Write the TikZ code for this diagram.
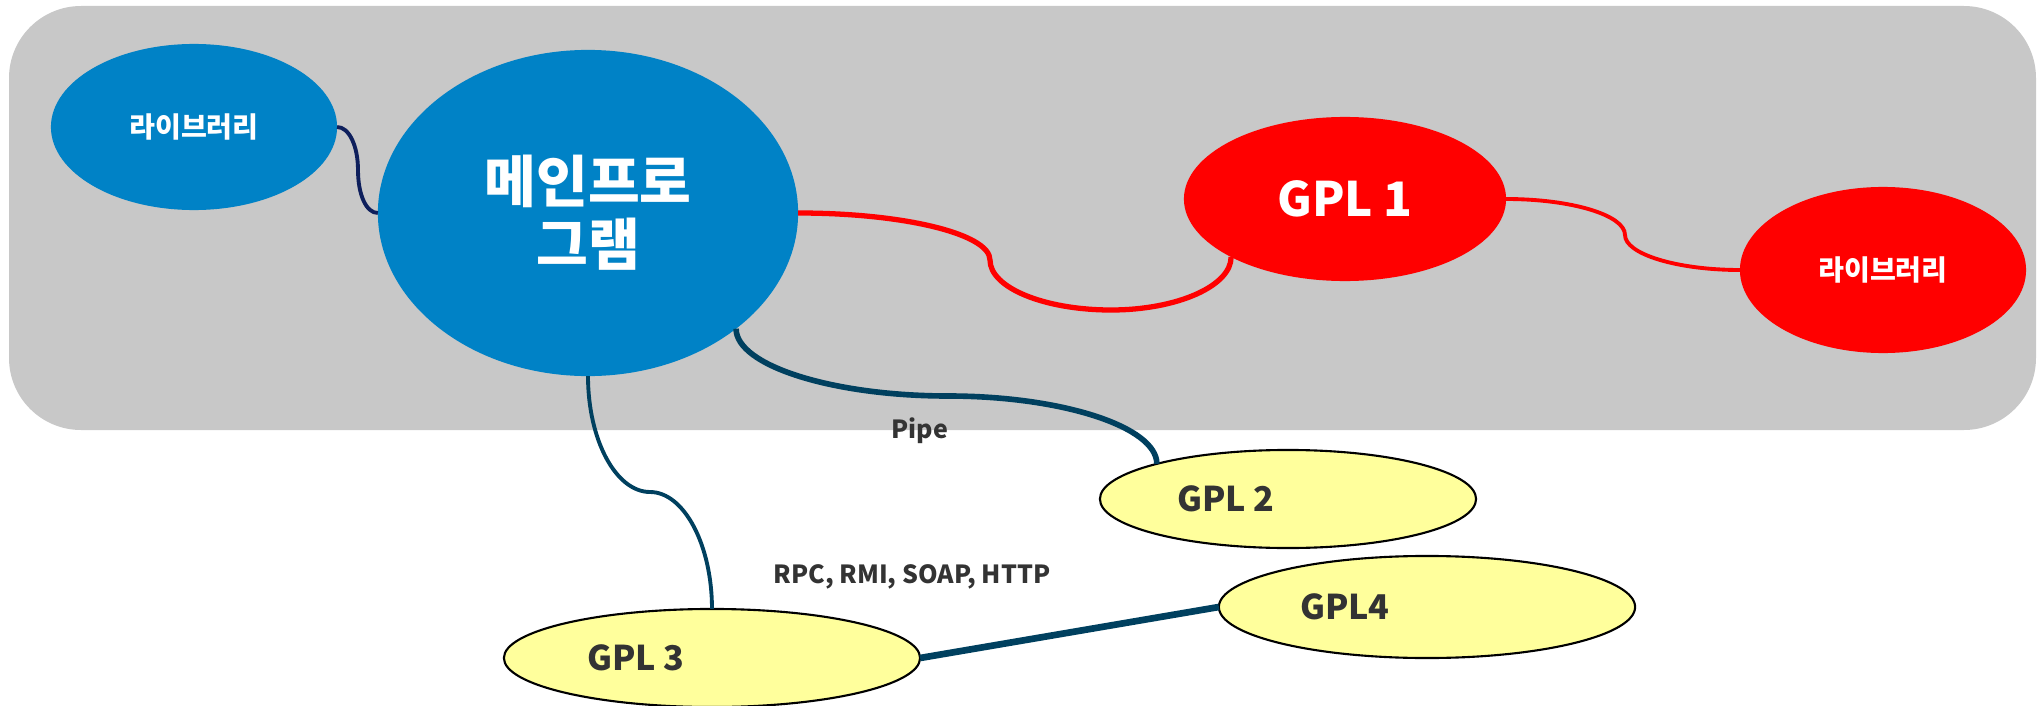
\documentclass[tikz,border=0pt]{standalone}
\usepackage{fontspec}
\setmainfont{Noto Sans CJK KR}
\usetikzlibrary{shapes.geometric}

\definecolor{panel gray}{HTML}{C8C8C8}
\definecolor{main blue}{HTML}{0082C6}
\definecolor{gpl red}{HTML}{FF0000}
\definecolor{gpl yellow}{HTML}{FFFF9C}
\definecolor{link navy}{HTML}{0E1F5C}
\definecolor{link teal}{HTML}{00405F}
\definecolor{label gray}{HTML}{333333}

\begin{document}
\begin{tikzpicture}[x=0.01cm, y=-0.01cm,
        blob/.style={ellipse, inner sep=0pt, outer sep=0pt, text=white, font=\bfseries},
        ext blob/.style={ellipse, inner sep=0pt, outer sep=0pt, fill=gpl yellow, draw=black, line width=0.6pt},
        ext text/.style={text=label gray, font=\bfseries\fontsize{9.7}{11}\selectfont},
        link label/.style={text=label gray, font=\bfseries\fontsize{7.1}{8}\selectfont}]
        \useasboundingbox (0,0) rectangle (2038,706);

        % process boundary
        \fill[panel gray, rounded corners=0.72cm] (9,6) rectangle (2036,430);

        % nodes
        \node[blob, fill=main blue, minimum width=2.86cm, minimum height=1.66cm, font=\bfseries\fontsize{8}{9}\selectfont] (lib left) at (194,127) {라이브러리};
        \node[blob, fill=main blue, minimum width=4.2cm, minimum height=3.26cm, align=center, font=\bfseries\fontsize{16}{18}\selectfont] (main prog) at (588,213) {메인프로\\그램};
        \node[blob, fill=gpl red, minimum width=3.22cm, minimum height=1.64cm, font=\bfseries\fontsize{13.5}{15}\selectfont] (gpl1) at (1345,199) {GPL 1};
        \node[blob, fill=gpl red, minimum width=2.86cm, minimum height=1.66cm, font=\bfseries\fontsize{8}{9}\selectfont] (lib right) at (1883,270) {라이브러리};

        \node[ext blob, minimum width=3.76cm, minimum height=0.98cm, label={[ext text, xshift=-0.62cm]center:GPL 2}] (gpl2) at (1288,499) {};
        \node[ext blob, minimum width=4.16cm, minimum height=0.98cm, label={[ext text, xshift=-0.76cm]center:GPL 3}] (gpl3) at (712,658) {};
        \node[ext blob, minimum width=4.16cm, minimum height=1.02cm, label={[ext text, xshift=-0.82cm]center:GPL4}] (gpl4) at (1427,607) {};

        % links
        \draw[link navy, line width=1.1pt] (lib left.east) .. controls +(12,0) and +(0,-24) .. (358,170)
            .. controls +(0,24) and +(-12,0) .. (main prog.west);

        \coordinate (red bend a) at (990,260);
        \coordinate (red bend b) at (1111,310);
        \draw[gpl red, line width=1.5pt] (main prog.east) .. controls +(106,0) and +(0,-26) .. (red bend a)
            .. controls +(0,28) and +(-66,0) .. (red bend b)
            .. controls +(66,0) and +(0,29) .. (gpl1.207);

        \coordinate (red bend c) at (1625,235);
        \draw[gpl red, line width=1.1pt] (gpl1.east) .. controls +(65,0) and +(0,-20) .. (red bend c)
            .. controls +(0,19) and +(-63,0) .. (lib right.west);

        \coordinate (pipe bend) at (948,396);
        \draw[link teal, line width=1.6pt] (main prog.-38) .. controls +(0,37) and +(-115,0) .. (pipe bend)
            .. controls +(114,0) and +(0,-37) .. (gpl2.165);

        \coordinate (rpc bend) at (650,492);
        \draw[link teal, line width=1.1pt] (main prog.south) .. controls +(0,64) and +(-34,0) .. (rpc bend)
            .. controls +(34,0) and +(0,-64) .. (gpl3.north);

        \draw[link teal, line width=1.9pt] (gpl3.east) -- (gpl4.west);

        % link labels
        \node[link label] (pipe text) at (920,431) {Pipe};
        \node[link label] (rpc text) at (912,577) {RPC, RMI, SOAP, HTTP};
    \end{tikzpicture}
\end{document}
